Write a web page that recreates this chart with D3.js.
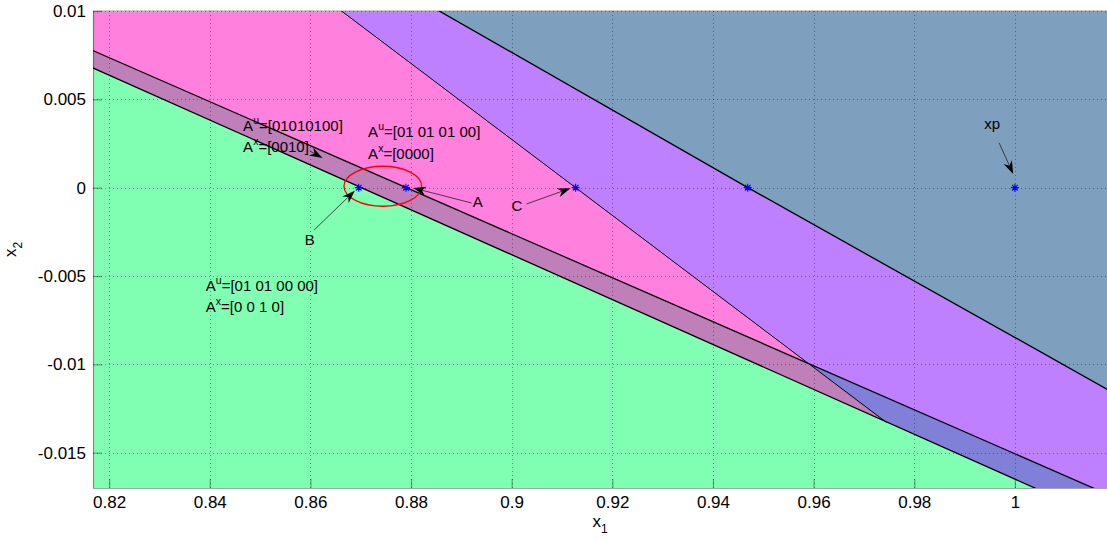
<!DOCTYPE html>
<html><head><meta charset="utf-8">
<script src="https://cdn.jsdelivr.net/npm/d3@7"></script>
<style>
body{margin:0;background:#fff}
text{font-family:"Liberation Sans",Arial,Helvetica,sans-serif;fill:#000}
</style>
</head><body>
<svg id="c" width="1107" height="541"></svg>
<script>
// ---------- data ----------
const xTicks = [0.82,0.84,0.86,0.88,0.9,0.92,0.94,0.96,0.98,1.0];
const xTickLabels = ["0.82","0.84","0.86","0.88","0.9","0.92","0.94","0.96","0.98","1"];
const yTicks = [0.01,0.005,0,-0.005,-0.01,-0.015];
const yTickLabels = ["0.01","0.005","0","-0.005","-0.01","-0.015"];

// region boundary lines, [x1, x2]
const boundaryL1 = [[0.80,0.00891],[1.03,-0.02031]];          // lower edge of narrow band
const boundaryL2 = [[0.80,0.00985],[1.03,-0.01880]];          // upper edge of narrow band
const boundaryL3 = [[0.86,0.01133],[0.9127,0],[0.97449,-0.01329]]; // pink / purple edge
const boundaryL3ext = [0.99639,-0.018];
const boundaryL4 = [[0.80,0.02396],[0.88518,0.01007],[0.94693,0],[1.01827,-0.01140],[1.03,-0.01328]];

// points (blue asterisks)
const pointsX1 = [0.8696,0.8790,0.9127,0.9469,1.0];
const pointsX2 = [0,0,0,0,0];

// red ellipse
const ellipseCenter = [0.87439,0.00008];
const ellipseRadii = [0.00771,0.001133];

// annotation arrows: tail -> tip
const arrowTails = [[0.89202,-0.000867],[0.86074,-0.002396],[0.90295,-0.000923],[0.99687,0.002532],[0.85988,0.002079]];
const arrowTips  = [[0.88041,-0.000017],[0.86883,-0.00017],[0.91169,-0.000034],[0.99965,0.000776],[0.86241,0.001683]];

// point labels
const pointLabels = ["A","B","C","xp"];
const pointLabelPos = [[0.89228,-0.001093],[0.85890,-0.003246],[0.89997,-0.00132],[0.99389,0.003325]];

// A^u / A^x annotations
const annBase = ["A","A","A","A","A","A"];
const annSup  = ["u","x","u","x","u","x"];
const annRest = ["=[01010100]","=[0010]","=[01 01 01 00]","=[0000]","=[01 01 00 00]","=[0 0 1 0]"];
const annPos  = [[0.84663,0.003212],[0.84663,0.002022],[0.87147,0.002855],[0.87147,0.001626],[0.83922,-0.005869],[0.83922,-0.007059]];

// colours
const colGrey="#7f9fbf", colPurple="#bf80ff", colPink="#ff80dd", colBlue="#8080d8", colMauve="#bf80b9", colGreen="#80ffb2";

// ---------- scales ----------
const L=93, R=1107, T=11, B=488;
const x = d3.scaleLinear().domain([0.8168,1.0183]).range([L,R]);
const y = d3.scaleLinear().domain([-0.017,0.01]).range([B,T]);

const svg = d3.select("#c");
const defs = svg.append("defs");
defs.append("clipPath").attr("id","plot").append("rect")
  .attr("x",L).attr("y",T).attr("width",R-L).attr("height",B-T);

const pinkArea = d3.area().y(d=>y(d[1])).x0(x(0.80)).x1(d=>x(d[0]));
const pinkData = boundaryL3.concat([boundaryL3ext]);
defs.append("clipPath").attr("id","pinkclip").append("path").attr("d",pinkArea(pinkData));

const g = svg.append("g").attr("clip-path","url(#plot)");

// grey background region
g.append("rect").attr("x",L).attr("y",T).attr("width",R-L).attr("height",B-T).attr("fill",colGrey);

// purple: below L4
g.append("path").attr("fill",colPurple)
  .attr("d",d3.area().x(d=>x(d[0])).y1(d=>y(d[1])).y0(y(-0.02))(boundaryL4));

// pink: left of L3
g.append("path").attr("fill",colPink).attr("d",pinkArea(pinkData));

// band between L1 and L2
const bandData = boundaryL1.map((p,i)=>({x:p[0],lo:p[1],hi:boundaryL2[i][1]}));
const bandArea = d3.area().x(d=>x(d.x)).y0(d=>y(d.lo)).y1(d=>y(d.hi));
g.append("path").attr("fill",colBlue).attr("d",bandArea(bandData));
g.append("g").attr("clip-path","url(#pinkclip)")
  .append("path").attr("fill",colMauve).attr("d",bandArea(bandData));

// green: below L1
g.append("path").attr("fill",colGreen)
  .attr("d",d3.area().x(d=>x(d[0])).y1(d=>y(d[1])).y0(y(-0.02))(boundaryL1));

// grid
const grid = g.append("g").attr("stroke","rgba(0,0,0,0.38)").attr("stroke-width",1).attr("stroke-dasharray","1,3");
xTicks.forEach(t=>grid.append("line").attr("x1",Math.round(x(t))+0.5).attr("x2",Math.round(x(t))+0.5).attr("y1",T).attr("y2",B));
yTicks.forEach(t=>grid.append("line").attr("y1",Math.round(y(t))+0.5).attr("y2",Math.round(y(t))+0.5).attr("x1",L).attr("x2",R));

// boundary lines
const line = d3.line().x(d=>x(d[0])).y(d=>y(d[1]));
[boundaryL1,boundaryL2,boundaryL3,boundaryL4].forEach((l,i)=>{
  g.append("path").attr("d",line(l)).attr("fill","none").attr("stroke","#000").attr("stroke-width",i===2?1:1.3);
});

// top frame line
svg.append("line").attr("x1",L).attr("x2",R).attr("y1",T-0.5).attr("y2",T-0.5).attr("stroke","#cfcfcf").attr("stroke-width",1);

// axes
const xAxis = d3.axisBottom(x).tickValues(xTicks).tickFormat((d,i)=>xTickLabels[i])
  .tickSizeInner(-9).tickSizeOuter(0).tickPadding(8);
const yAxis = d3.axisLeft(y).tickValues(yTicks).tickFormat((d,i)=>yTickLabels[i])
  .tickSizeInner(-9).tickSizeOuter(0).tickPadding(7);
const gx = svg.append("g").attr("transform",`translate(0,${B})`).call(xAxis);
const gy = svg.append("g").attr("transform",`translate(${L},0)`).call(yAxis);
[gx,gy].forEach(a=>{
  a.selectAll("path.domain").attr("stroke","rgba(0,0,0,0.35)").attr("stroke-width",1.2);
  a.selectAll(".tick line").attr("stroke","rgba(0,0,0,0.35)").attr("stroke-width",1.2);
  a.selectAll("text").attr("font-size",17).attr("font-family",'"Liberation Sans",Arial,sans-serif').attr("fill","#000");
});

// axis labels
const xl = svg.append("text").attr("x",(L+R)/2).attr("y",527).attr("text-anchor","middle").attr("font-size",17);
xl.append("tspan").text("x");
xl.append("tspan").text("1").attr("font-size",12).attr("dy",6);
const yl = svg.append("text").attr("transform",`translate(16,${(T+B)/2}) rotate(-90)`).attr("text-anchor","middle").attr("font-size",17);
yl.append("tspan").text("x");
yl.append("tspan").text("2").attr("font-size",12).attr("dy",6);

// red ellipse
svg.append("ellipse").attr("cx",x(ellipseCenter[0])).attr("cy",y(ellipseCenter[1]))
  .attr("rx",x(ellipseCenter[0]+ellipseRadii[0])-x(ellipseCenter[0]))
  .attr("ry",y(ellipseCenter[1])-y(ellipseCenter[1]+ellipseRadii[1]))
  .attr("fill","none").attr("stroke","#ff0000").attr("stroke-width",1.3);

// asterisks
const asterisk = {draw(ctx,size){const r=Math.sqrt(size)/2,d=r*Math.SQRT1_2;
  ctx.moveTo(-r,0);ctx.lineTo(r,0);ctx.moveTo(0,-r);ctx.lineTo(0,r);
  ctx.moveTo(-d,-d);ctx.lineTo(d,d);ctx.moveTo(-d,d);ctx.lineTo(d,-d);}};
svg.append("g").selectAll("path").data(pointsX1).join("path")
  .attr("transform",(d,i)=>`translate(${x(d)},${y(pointsX2[i])})`)
  .attr("d",d3.symbol().type(asterisk).size(64)())
  .attr("fill","none").attr("stroke","#0000ff").attr("stroke-width",1.1);

// arrows
const ag = svg.append("g");
arrowTails.forEach((t,i)=>{
  const tx=x(t[0]),ty=y(t[1]),hx=x(arrowTips[i][0]),hy=y(arrowTips[i][1]);
  const dx=hx-tx,dy=hy-ty,len=Math.hypot(dx,dy),ux=dx/len,uy=dy/len,px=-uy,py=ux;
  const hl=Math.min(13,len), hw=4.5, notch=hl*0.7;
  const bx=hx-ux*hl,by=hy-uy*hl;
  if(len>hl) ag.append("line").attr("x1",tx).attr("y1",ty).attr("x2",hx-ux*notch).attr("y2",hy-uy*notch)
    .attr("stroke","#222").attr("stroke-width",0.8);
  ag.append("path").attr("d",`M${hx},${hy}L${bx+px*hw},${by+py*hw}L${hx-ux*notch},${hy-uy*notch}L${bx-px*hw},${by-py*hw}Z`)
    .attr("fill","#000");
});

// point labels
svg.append("g").selectAll("text").data(pointLabels).join("text")
  .attr("x",(d,i)=>x(pointLabelPos[i][0])).attr("y",(d,i)=>y(pointLabelPos[i][1]))
  .attr("font-size",15).text(d=>d);

// A^u / A^x texts
annBase.forEach((b,i)=>{
  const t = svg.append("text").attr("x",x(annPos[i][0])).attr("y",y(annPos[i][1])).attr("font-size",15);
  t.append("tspan").text(b);
  t.append("tspan").text(annSup[i]).attr("font-size",10.5).attr("dy",-7);
  t.append("tspan").text(annRest[i]).attr("dy",7);
});
</script>
</body></html>
